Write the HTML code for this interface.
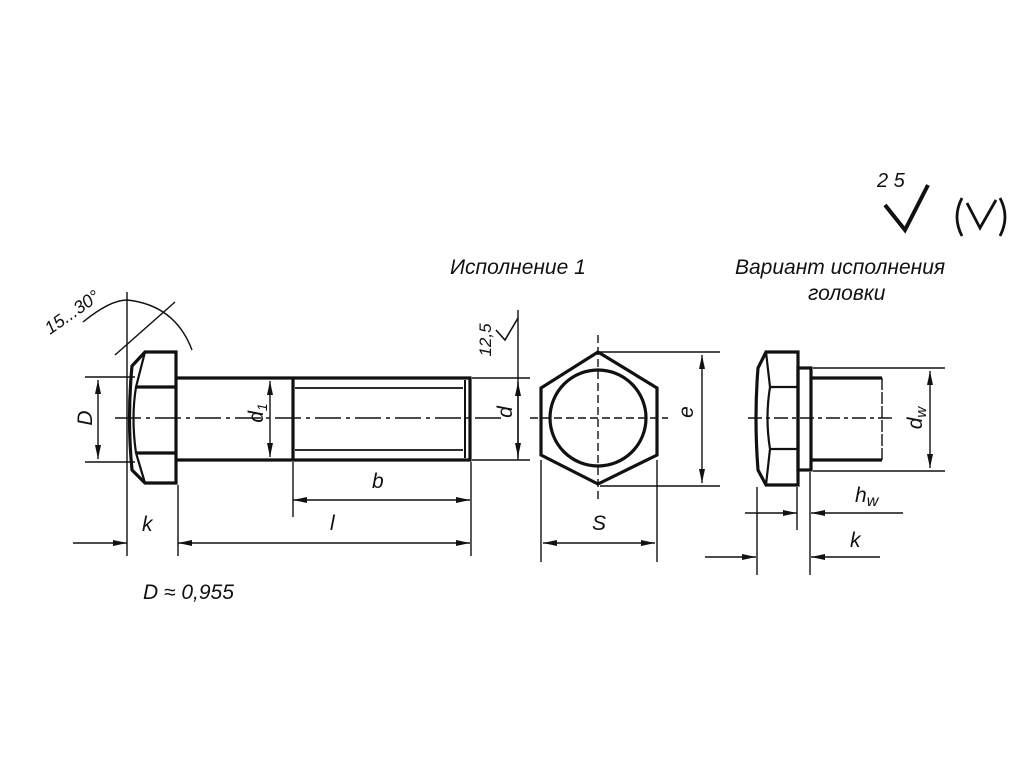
<!DOCTYPE html>
<html><head><meta charset="utf-8"><style>
html,body{margin:0;padding:0;background:#fff;}
svg{display:block}
text{font-family:"Liberation Sans","DejaVu Sans",sans-serif;font-style:italic;fill:#111;}
</style></head><body>
<svg width="1024" height="768" viewBox="0 0 1024 768" xmlns="http://www.w3.org/2000/svg">
<defs>
<marker id="a" viewBox="0 0 14 6" refX="14" refY="3" markerWidth="14" markerHeight="6" orient="auto-start-reverse" markerUnits="userSpaceOnUse"><path d="M0,0 L14,3 L0,6 z" fill="#111"/></marker>
</defs>
<rect width="1024" height="768" fill="#fff"/>
<g stroke="#111" fill="none">
<!-- left bolt -->
<g stroke-width="3.2">
<path d="M145,352 L176,352 L176,483 L145,483 L132,470 Q127,418 132,366 Z"/>
<path d="M176,378 L470,378 L470,460 L176,460"/>
<line x1="293" y1="378" x2="293" y2="460"/>
<path d="M136,387 L176,387 M136,453 L176,453"/>
<path d="M145,352 L136,387 Q131,418 136,453 L145,483" stroke-width="2.2"/>
<line x1="465" y1="380" x2="465" y2="458" stroke-width="2"/>
</g>
<g stroke-width="1.8">
<line x1="295" y1="388" x2="463" y2="388"/>
<line x1="295" y1="450" x2="463" y2="450"/>
</g>
<g stroke-width="1.4">
<line x1="115" y1="418" x2="505" y2="418" stroke-dasharray="26,5,4,5"/>
<line x1="127" y1="292" x2="127" y2="556"/>
<line x1="178" y1="485" x2="178" y2="556"/>
<line x1="85" y1="377" x2="135" y2="377"/>
<line x1="85" y1="462" x2="135" y2="462"/>
<line x1="98" y1="380" x2="98" y2="459" marker-start="url(#a)" marker-end="url(#a)"/>
<line x1="270" y1="381" x2="270" y2="457" marker-start="url(#a)" marker-end="url(#a)"/>
<line x1="472" y1="378" x2="530" y2="378"/>
<line x1="472" y1="460" x2="530" y2="460"/>
<line x1="518" y1="310" x2="518" y2="460"/>
<line x1="518" y1="382" x2="518" y2="457" marker-start="url(#a)" marker-end="url(#a)"/>
<line x1="293" y1="462" x2="293" y2="517"/>
<line x1="471" y1="462" x2="471" y2="556"/>
<line x1="293" y1="500" x2="470" y2="500" marker-start="url(#a)" marker-end="url(#a)"/>
<line x1="178" y1="543" x2="470" y2="543" marker-start="url(#a)" marker-end="url(#a)"/>
<line x1="73" y1="543" x2="127" y2="543" marker-end="url(#a)"/>
<path d="M83,322 Q110,300 127,300 Q175,305 192,350" />
<line x1="115" y1="355" x2="175" y2="302"/>
<path d="M496,330 L505,340 L518,318" stroke-width="1.6"/>
</g>
<!-- hex view -->
<g stroke-width="3.2">
<polygon points="598,352 657,388 657,455 598,484 541,455 541,388"/>
<circle cx="598" cy="418" r="48"/>
</g>
<g stroke-width="1.4">
<line x1="530" y1="418" x2="668" y2="418" stroke-dasharray="8,4"/>
<line x1="598" y1="335" x2="598" y2="500" stroke-dasharray="8,4"/>
<line x1="600" y1="352" x2="720" y2="352"/>
<line x1="600" y1="486" x2="720" y2="486"/>
<line x1="702" y1="355" x2="702" y2="483" marker-start="url(#a)" marker-end="url(#a)"/>
<line x1="541" y1="460" x2="541" y2="562"/>
<line x1="657" y1="460" x2="657" y2="562"/>
<line x1="543" y1="543" x2="655" y2="543" marker-start="url(#a)" marker-end="url(#a)"/>
</g>
<!-- variant -->
<g stroke-width="3.2">
<path d="M766,352 L798,352 L798,485 L766,485 L758,470 Q754,418 758,368 Z"/>
<rect x="798" y="368" width="13" height="102"/>
<path d="M811,378 L882,378 M811,460 L882,460"/>
<path d="M770,387 L798,387 M770,449 L798,449" stroke-width="2.2"/>
<path d="M766,352 L770,387 Q765,418 770,449 L766,485" stroke-width="2.2"/>
</g>
<g stroke-width="1.4">
<line x1="882" y1="378" x2="882" y2="460" stroke-dasharray="12,2"/>
<line x1="748" y1="418" x2="895" y2="418" stroke-dasharray="14,4,4,4"/>
<line x1="813" y1="368" x2="945" y2="368"/>
<line x1="813" y1="471" x2="945" y2="471"/>
<line x1="930" y1="371" x2="930" y2="468" marker-start="url(#a)" marker-end="url(#a)"/>
<line x1="757" y1="487" x2="757" y2="575"/>
<line x1="797" y1="487" x2="797" y2="530"/>
<line x1="810" y1="472" x2="810" y2="575"/>
<line x1="745" y1="513" x2="797" y2="513" marker-end="url(#a)"/>
<line x1="903" y1="513" x2="811" y2="513" marker-end="url(#a)"/>
<line x1="705" y1="557" x2="756" y2="557" marker-end="url(#a)"/>
<line x1="880" y1="557" x2="811" y2="557" marker-end="url(#a)"/>
</g>
<!-- roughness marks -->
<path d="M885,205 L905,230 L928,185" stroke-width="4"/>
<path d="M962,198 Q952,217 962,236 M1000,198 Q1010,217 1000,236" stroke-width="2.8"/>
<path d="M967,203 L980,228 L996,200" stroke-width="2.8"/>
</g>
<g font-size="21">
<text x="877" y="187" font-size="20">2 5</text>
<text x="450" y="274">Исполнение 1</text>
<text x="735" y="274">Вариант исполнения</text>
<text x="808" y="300">головки</text>
<text x="143" y="599">D ≈ 0,955</text>
<text x="372" y="488">b</text>
<text x="330" y="530">l</text>
<text x="142" y="531">k</text>
<text x="592" y="530">S</text>
<text x="855" y="502">h<tspan font-size="16" dy="4">w</tspan></text>
<text x="850" y="547">k</text>
<text transform="translate(92,418) rotate(-90)" text-anchor="middle">D</text>
<text transform="translate(263,413) rotate(-90)" text-anchor="middle">d<tspan font-size="14" dy="4">1</tspan></text>
<text transform="translate(512,412) rotate(-90)" text-anchor="middle">d</text>
<text transform="translate(693,412) rotate(-90)" text-anchor="middle">e</text>
<text transform="translate(922,418) rotate(-90)" text-anchor="middle">d<tspan font-size="15" dy="4">w</tspan></text>
<text transform="translate(491,340) rotate(-90)" text-anchor="middle" font-size="17">12,5</text>
<text transform="translate(50,335) rotate(-35)" font-size="18">15...30°</text>
</g>
</svg>
</body></html>
